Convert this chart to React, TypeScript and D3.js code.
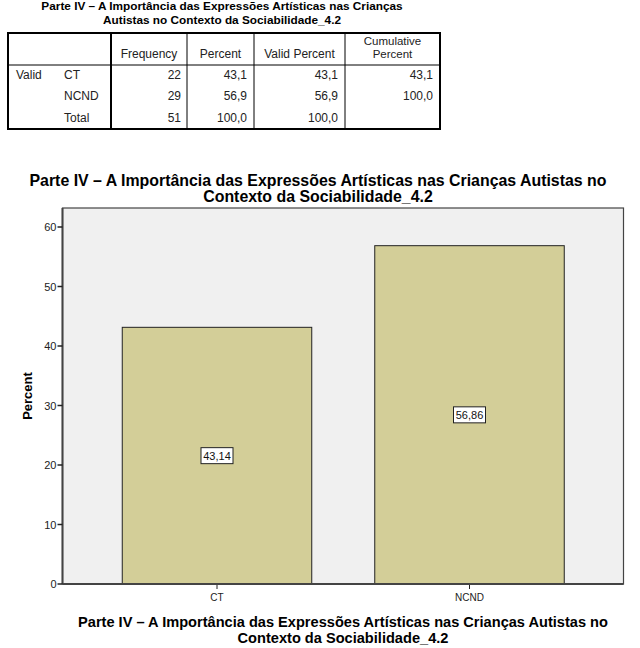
import React from "react";
import * as d3 from "d3";

const categories = ["CT", "NCND"];
const percents = [43.14, 56.86];
const barLabels = ["43,14", "56,86"];
const yTicks = [0, 10, 20, 30, 40, 50, 60];

const tableHeaders = ["Frequency", "Percent", "Valid Percent", "Cumulative|Percent"];
const tableRowLabels = ["CT", "NCND", "Total"];
const tableFrequency = ["22", "29", "51"];
const tablePercent = ["43,1", "56,9", "100,0"];
const tableValid = ["43,1", "56,9", "100,0"];
const tableCumulative = ["43,1", "100,0", ""];

const titleLine1 = "Parte IV – A Importância das Expressões Artísticas nas Crianças Autistas no";
const titleLine2 = "Contexto da Sociabilidade_4.2";
const tableTitle1 = "Parte IV – A Importância das Expressões Artísticas nas Crianças";
const tableTitle2 = "Autistas no Contexto da Sociabilidade_4.2";

const FONT = "Arial, 'Liberation Sans', sans-serif";

export default function App() {
  const W = 640, H = 648;
  const plot = { left: 62.5, right: 623.5, top: 208, bottom: 584 };
  const y = d3.scaleLinear().domain([0, 63.2]).range([plot.bottom, plot.bottom - 63.2 * 5.95]);
  const bandW = 189.5;
  const centers = [217, 469.5];

  const colX = [8, 111, 187, 254, 345, 440];
  const rowY = [33, 65, 86, 108, 129];
  const fs = 12;

  return (
    <svg width={W} height={H} style={{ position: "absolute", left: 0, top: 0, background: "#fff" }} fontFamily={FONT}>
      {/* Table title */}
      <text x={222} y={10} textAnchor="middle" fontSize={11.8} fontWeight="bold">{tableTitle1}</text>
      <text x={222} y={23.5} textAnchor="middle" fontSize={11.8} fontWeight="bold">{tableTitle2}</text>
      {/* Table */}
      <rect x={colX[0]} y={rowY[0]} width={colX[5] - colX[0]} height={rowY[4] - rowY[0]} fill="none" stroke="#000" strokeWidth={2} />
      <line x1={colX[0]} x2={colX[5]} y1={rowY[1]} y2={rowY[1]} stroke="#000" strokeWidth={1} />
      {colX.slice(1, 5).map((cx, i) => (
        <line key={i} x1={cx} x2={cx} y1={rowY[0]} y2={rowY[4]} stroke="#000" strokeWidth={i === 0 ? 2 : 1} />
      ))}
      {tableHeaders.map((h, i) => {
        const parts = h.split("|");
        const cx = (colX[i + 1] + colX[i + 2]) / 2;
        if (parts.length === 1) {
          return <text key={i} x={cx} y={58} textAnchor="middle" fontSize={fs} fill="#222">{h}</text>;
        }
        return (
          <g key={i}>
            <text x={cx} y={45} textAnchor="middle" fontSize={11.5} fill="#222">{parts[0]}</text>
            <text x={cx} y={58} textAnchor="middle" fontSize={11.5} fill="#222">{parts[1]}</text>
          </g>
        );
      })}
      <text x={16} y={79} fontSize={fs} fill="#222">Valid</text>
      {tableRowLabels.map((r, i) => {
        const by = 79 + i * 21.3;
        return (
          <g key={r}>
            <text x={64} y={by} fontSize={fs} fill="#222">{r}</text>
            <text x={colX[2] - 6} y={by} textAnchor="end" fontSize={fs} fill="#222">{tableFrequency[i]}</text>
            <text x={colX[3] - 7} y={by} textAnchor="end" fontSize={fs} fill="#222">{tablePercent[i]}</text>
            <text x={colX[4] - 7} y={by} textAnchor="end" fontSize={fs} fill="#222">{tableValid[i]}</text>
            <text x={colX[5] - 7} y={by} textAnchor="end" fontSize={fs} fill="#222">{tableCumulative[i]}</text>
          </g>
        );
      })}

      {/* Chart title */}
      <text x={318} y={186} textAnchor="middle" fontSize={15.9} fontWeight="bold">{titleLine1}</text>
      <text x={318} y={202} textAnchor="middle" fontSize={15.9} fontWeight="bold">{titleLine2}</text>

      {/* Plot area */}
      <rect x={plot.left} y={plot.top} width={plot.right - plot.left} height={plot.bottom - plot.top} fill="#f0f0f0" stroke="#444" strokeWidth={1.2} />

      {categories.map((c, i) => {
        const cx = centers[i];
        const x0 = cx - bandW / 2;
        const yTop = y(percents[i]);
        const ymid = y(percents[i] / 2);
        return (
          <g key={c}>
            <rect x={x0} y={yTop} width={bandW} height={plot.bottom - yTop} fill="#d3ce98" stroke="#222" strokeWidth={1} />
            <rect x={cx - 16} y={ymid - 8} width={32} height={16} fill="#fff" stroke="#222" strokeWidth={1} />
            <text x={cx} y={ymid + 4} textAnchor="middle" fontSize={11} fill="#111">{barLabels[i]}</text>
            <line x1={cx} x2={cx} y1={plot.bottom} y2={plot.bottom + 5} stroke="#222" />
            <text x={cx} y={plot.bottom + 17} textAnchor="middle" fontSize={10} fill="#222">{c}</text>
          </g>
        );
      })}

      {/* Axes */}
      <line x1={plot.left} x2={plot.left} y1={plot.top} y2={plot.bottom} stroke="#444" strokeWidth={2} />
      <line x1={plot.left} x2={plot.right} y1={plot.bottom} y2={plot.bottom} stroke="#444" strokeWidth={2} />
      {yTicks.map((t) => (
        <g key={t}>
          <line x1={plot.left - 5} x2={plot.left} y1={y(t)} y2={y(t)} stroke="#222" strokeWidth={1.5} />
          <text x={plot.left - 6} y={y(t) + 4} textAnchor="end" fontSize={11} fill="#222">{t}</text>
        </g>
      ))}
      <text transform={`translate(32,${(plot.top + plot.bottom) / 2}) rotate(-90)`} textAnchor="middle" fontSize={13} fontWeight="bold">Percent</text>

      {/* X axis title */}
      <text x={343} y={627} textAnchor="middle" fontSize={14.6} fontWeight="bold">{titleLine1}</text>
      <text x={343} y={643} textAnchor="middle" fontSize={14.6} fontWeight="bold">{titleLine2}</text>
    </svg>
  );
}
